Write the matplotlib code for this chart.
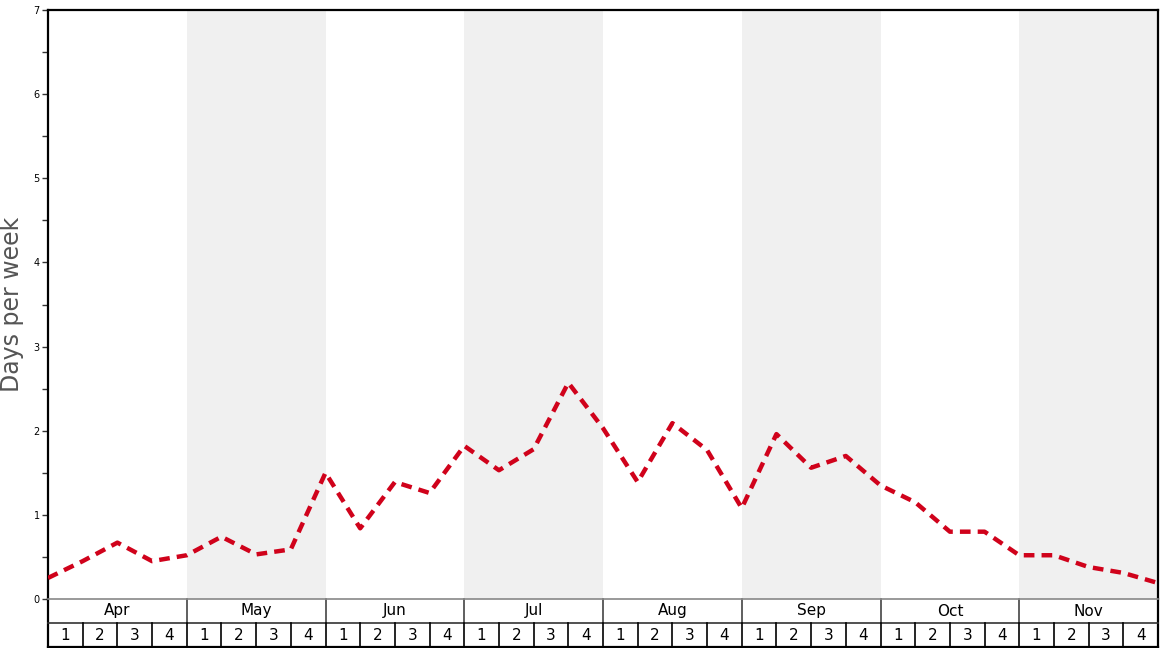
import numpy as np
import matplotlib
matplotlib.use("Agg")
import matplotlib.pyplot as plt
import matplotlib.transforms as mtransforms

# Days per week, read at each week boundary (33 points for 32 weeks)
months = ['Apr', 'May', 'Jun', 'Jul', 'Aug', 'Sep', 'Oct', 'Nov']
week_labels = ['1', '2', '3', '4']
days_per_week = [0.25, 0.45, 0.67, 0.45, 0.52, 0.74, 0.53, 0.59,
                 1.50, 0.84, 1.39, 1.26, 1.82, 1.53, 1.78, 2.57,
                 2.03, 1.39, 2.09, 1.77, 1.08, 1.96, 1.56, 1.70,
                 1.35, 1.15, 0.80, 0.80, 0.52, 0.52, 0.38, 0.31, 0.19]
shaded_months = ['May', 'Jul', 'Sep', 'Nov']


def main():
    fig = plt.figure(figsize=(11.68, 6.48), dpi=100)
    ax = fig.add_axes([48 / 1168, 49 / 648, 1110 / 1168, 589 / 648])

    n_weeks = len(months) * len(week_labels)
    x = np.arange(len(days_per_week))

    # Alternating month bands
    for i, m in enumerate(months):
        if m in shaded_months:
            ax.axvspan(i * 4, i * 4 + 4, color='#f0f0f0', lw=0, zorder=0)

    ax.plot(x, days_per_week, color='#d0021b', lw=3.2,
            linestyle=(0, (2.4, 1.6)), dash_capstyle='butt',
            solid_joinstyle='miter', zorder=3)

    ax.set_xlim(0, n_weeks)
    ax.set_ylim(0, 7)
    ax.set_xticks([])
    ax.set_yticks(range(8))
    ax.set_yticks(np.arange(0.5, 7, 1), minor=True)
    ax.tick_params(axis='y', which='both', length=4, width=1, labelsize=7,
                   pad=2, color='#333333')
    ax.set_ylabel('Days per week', fontsize=17, color='#555555')
    ax.yaxis.set_label_coords(-0.022, 0.5)

    for side in ['left', 'top', 'right']:
        ax.spines[side].set_linewidth(1.6)
        ax.spines[side].set_color('black')
    ax.spines['bottom'].set_color('#888888')
    ax.spines['bottom'].set_linewidth(1.2)

    # Month / week table under the axis
    trans = mtransforms.blended_transform_factory(ax.transData, ax.transAxes)
    y_mid = -24 / 589
    y_bot = -48 / 589
    for side_x in [0, n_weeks]:
        ax.plot([side_x, side_x], [0, y_bot], color='black', lw=1.6,
                transform=trans, clip_on=False)
    ax.plot([0, n_weeks], [y_mid, y_mid], color='#333333', lw=1.2,
            transform=trans, clip_on=False)
    ax.plot([0, n_weeks], [y_bot, y_bot], color='black', lw=1.6,
            transform=trans, clip_on=False)
    for i, m in enumerate(months):
        if i > 0:
            ax.plot([i * 4, i * 4], [0, y_mid], color='#444444', lw=1.2,
                    transform=trans, clip_on=False)
        ax.text(i * 4 + 2, -12 / 589, m, transform=trans, ha='center',
                va='center', fontsize=11)
        for j, w in enumerate(week_labels):
            k = i * 4 + j
            if k > 0:
                ax.plot([k, k], [y_mid, y_bot], color='black', lw=1.2,
                        transform=trans, clip_on=False)
            ax.text(k + 0.5, -36 / 589, w, transform=trans, ha='center',
                    va='center', fontsize=11)

    fig.savefig('out.png', dpi=100)


if __name__ == "__main__":
    main()
